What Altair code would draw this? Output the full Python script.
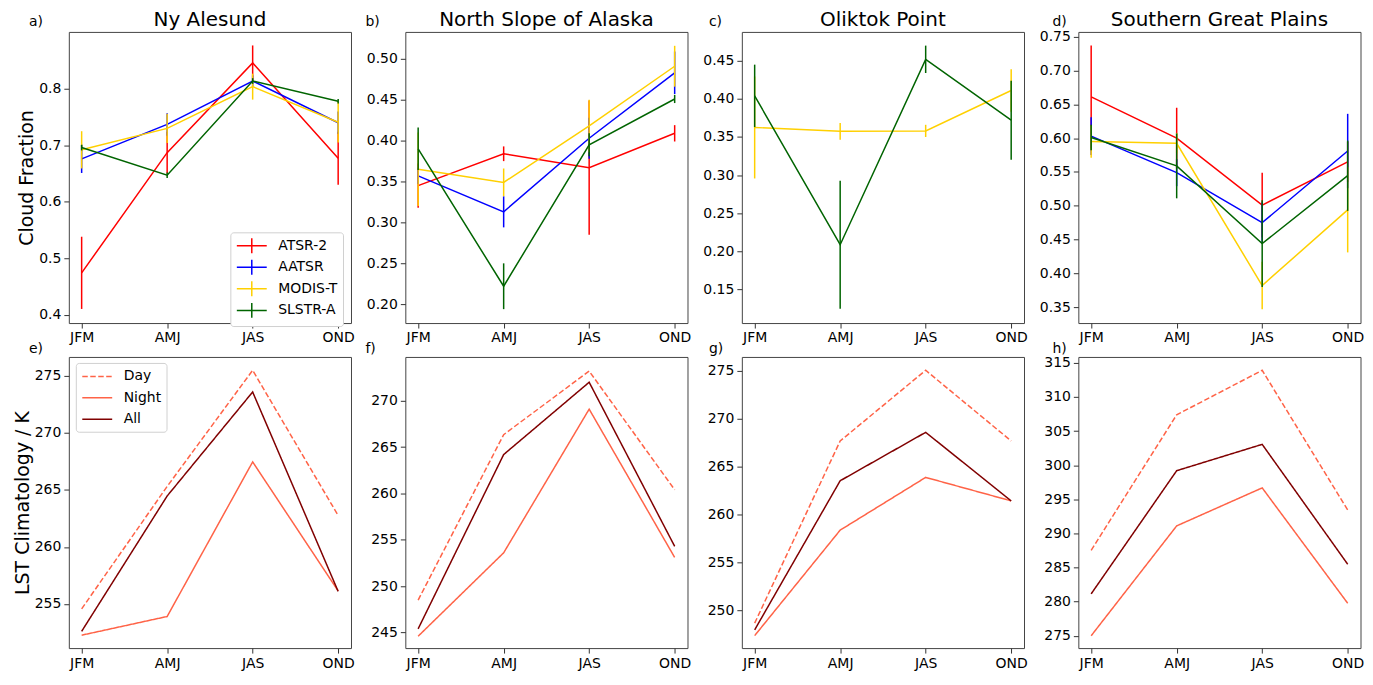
import altair as alt
import pandas as pd

FONT = "DejaVu Sans"

SEASONS = ["JFM", "AMJ", "JAS", "OND"]
SENSORS = ["ATSR-2", "AATSR", "MODIS-T", "SLSTR-A"]
SENSOR_COLORS = ["#ff0000", "#0000ff", "#ffd000", "#006400"]
LST_SERIES = ["Day", "Night", "All"]
LST_COLORS = ["#ff6347", "#ff6347", "#800000"]
LST_DASHES = [[5.5, 2.5], [1, 0], [1, 0]]

SITES = ["Ny Alesund", "North Slope of Alaska", "Oliktok Point", "Southern Great Plains"]
CF_LABELS = ["a)", "b)", "c)", "d)"]
LST_LABELS = ["e)", "f)", "g)", "h)"]

# ---- Cloud fraction: seasonal mean and error-bar half width ----
NYA_CF = {
    "ATSR-2": [0.474, 0.687, 0.846, 0.677],
    "AATSR": [0.676, 0.737, 0.814, 0.740],
    "MODIS-T": [0.692, 0.730, 0.804, 0.741],
    "SLSTR-A": [0.696, 0.647, 0.814, 0.778],
}
NYA_ERR = {
    "ATSR-2": [0.064, 0.037, 0.031, 0.047],
    "AATSR": [0.025, 0.020, 0.010, 0.020],
    "MODIS-T": [0.033, 0.026, 0.023, 0.036],
    "SLSTR-A": [0.005, 0.005, 0.005, 0.004],
}
NSA_CF = {
    "ATSR-2": [0.345, 0.384, 0.367, 0.409],
    "AATSR": [0.357, 0.313, 0.403, 0.483],
    "MODIS-T": [0.365, 0.349, 0.418, 0.491],
    "SLSTR-A": [0.390, 0.222, 0.395, 0.451],
}
NSA_ERR = {
    "ATSR-2": [0.027, 0.009, 0.082, 0.010],
    "AATSR": [0.010, 0.019, 0.025, 0.026],
    "MODIS-T": [0.045, 0.017, 0.032, 0.025],
    "SLSTR-A": [0.026, 0.028, 0.014, 0.005],
}
OLI_CF = {
    "MODIS-T": [0.3625, 0.3575, 0.358, 0.411],
    "SLSTR-A": [0.404, 0.2085, 0.452, 0.372],
}
OLI_ERR = {
    "MODIS-T": [0.067, 0.011, 0.008, 0.028],
    "SLSTR-A": [0.041, 0.084, 0.018, 0.052],
}
SGP_CF = {
    "ATSR-2": [0.661, 0.600, 0.501, 0.565],
    "AATSR": [0.603, 0.549, 0.475, 0.581],
    "MODIS-T": [0.595, 0.5925, 0.382, 0.494],
    "SLSTR-A": [0.601, 0.559, 0.444, 0.5445],
}
SGP_ERR = {
    "ATSR-2": [0.076, 0.045, 0.048, 0.030],
    "AATSR": [0.028, 0.020, 0.030, 0.055],
    "MODIS-T": [0.024, 0.015, 0.035, 0.063],
    "SLSTR-A": [0.019, 0.048, 0.064, 0.052],
}

# ---- LST climatology (K) ----
NYA_LST = {"Day": [254.57, 265.3, 275.48, 262.75],
           "Night": [252.26, 253.9, 267.45, 256.14],
           "All": [252.6, 264.46, 273.58, 256.1]}
NSA_LST = {"Day": [248.5, 266.35, 273.2, 260.4],
           "Night": [244.6, 253.6, 269.1, 253.1],
           "All": [245.4, 264.2, 272.0, 254.3]}
OLI_LST = {"Day": [248.7, 267.7, 275.07, 267.7],
           "Night": [247.4, 258.4, 263.9, 261.45],
           "All": [248.0, 263.55, 268.6, 261.45]}
SGP_LST = {"Day": [287.52, 307.38, 313.9, 293.43],
           "Night": [275.0, 291.1, 296.67, 279.76],
           "All": [281.14, 299.19, 303.05, 285.48]}

CF_DOMAINS = [[0.385, 0.901], [0.177, 0.533], [0.1056, 0.488], [0.3265, 0.7572]]
CF_TICKS = [[0.4, 0.5, 0.6, 0.7, 0.8],
            [0.20, 0.25, 0.30, 0.35, 0.40, 0.45, 0.50],
            [0.15, 0.20, 0.25, 0.30, 0.35, 0.40, 0.45],
            [0.35, 0.40, 0.45, 0.50, 0.55, 0.60, 0.65, 0.70, 0.75]]
CF_FORMATS = [".1f", ".2f", ".2f", ".2f"]
LST_DOMAINS = [[251.13, 276.65], [243.32, 274.73], [246.1, 276.46], [273.19, 315.86]]
LST_TICKS = [[255, 260, 265, 270, 275],
             [245, 250, 255, 260, 265, 270],
             [250, 255, 260, 265, 270, 275],
             [275, 280, 285, 290, 295, 300, 305, 310, 315]]

W = 283
H = 292
LABEL_DX = [-40, -40, -33, -26]


def x_enc():
    return alt.X("season:N", sort=SEASONS,
                 scale=alt.Scale(type="point", padding=0.15),
                 axis=alt.Axis(title=None, labelAngle=0))


def text_layer(txt, dx, dy, size, align):
    return alt.Chart(pd.DataFrame({"t": [txt]})).mark_text(
        align=align, baseline="alphabetic", fontSize=size, font=FONT, color="black"
    ).encode(text="t:N", x=alt.value(dx), y=alt.value(dy))


def cf_panel(col, vals, errs):
    rows = []
    for s in SENSORS:
        if s not in vals:
            continue
        for i, m in enumerate(SEASONS):
            v, e = vals[s][i], errs[s][i]
            rows.append({"season": m, "sensor": s, "cf": v, "lo": v - e, "hi": v + e})
    df = pd.DataFrame(rows)
    yscale = alt.Scale(domain=CF_DOMAINS[col], nice=False, zero=False)
    yaxis = alt.Axis(values=CF_TICKS[col], format=CF_FORMATS[col],
                     title="Cloud Fraction" if col == 0 else None)
    if col == 0:
        legend = alt.Legend(title=None, orient="none", legendX=162, legendY=201,
                            symbolType="M-2,0H2M0,-1V1", symbolSize=225,
                            symbolStrokeWidth=1.5, symbolOffset=8, labelOffset=18,
                            labelFontSize=14, labelFont=FONT, rowPadding=0.6,
                            padding=5, strokeColor="#d0d0d0", fillColor="white",
                            cornerRadius=3)
    else:
        legend = None
    color = alt.Color("sensor:N", scale=alt.Scale(domain=SENSORS, range=SENSOR_COLORS),
                      legend=legend)
    layers = []
    base = alt.Chart(df)
    for s in SENSORS:
        if s not in vals:
            continue
        sub = base.transform_filter(alt.datum.sensor == s)
        layers.append(sub.mark_rule(strokeWidth=1.5).encode(
            x=x_enc(), y=alt.Y("lo:Q", scale=yscale, axis=yaxis), y2="hi:Q", color=color))
        layers.append(sub.mark_line(strokeWidth=1.5).encode(
            x=x_enc(), y=alt.Y("cf:Q", scale=yscale, axis=yaxis), color=color))
    layers.append(text_layer(CF_LABELS[col], LABEL_DX[col], -6, 14, "left"))
    layers.append(text_layer(SITES[col], W / 2, -6, 20, "center"))
    return alt.layer(*layers).properties(width=W, height=H)


def lst_panel(col, vals):
    rows = []
    for s in LST_SERIES:
        for i, m in enumerate(SEASONS):
            rows.append({"season": m, "series": s, "lst": vals[s][i]})
    df = pd.DataFrame(rows)
    yscale = alt.Scale(domain=LST_DOMAINS[col], nice=False, zero=False)
    yaxis = alt.Axis(values=LST_TICKS[col], format="d",
                     title="LST Climatology / K" if col == 0 else None)
    if col == 0:
        legend = alt.Legend(title=None, orient="none", legendX=7, legendY=6,
                            symbolType="M-2,0H2", symbolSize=225,
                            symbolStrokeWidth=1.5, symbolOffset=8, labelOffset=18,
                            labelFontSize=14, labelFont=FONT, rowPadding=5.5,
                            padding=5, strokeColor="#d0d0d0", fillColor="white",
                            cornerRadius=3)
    else:
        legend = None
    color = alt.Color("series:N", scale=alt.Scale(domain=LST_SERIES, range=LST_COLORS),
                      legend=legend)
    dash = alt.StrokeDash("series:N", scale=alt.Scale(domain=LST_SERIES, range=LST_DASHES),
                          legend=legend)
    lines = alt.Chart(df).mark_line(strokeWidth=1.5).encode(
        x=x_enc(), y=alt.Y("lst:Q", scale=yscale, axis=yaxis),
        color=color, strokeDash=dash)
    lab = text_layer(LST_LABELS[col], LABEL_DX[col], -4, 14, "left")
    return alt.layer(lines, lab).properties(width=W, height=H)


panels = [
    cf_panel(0, NYA_CF, NYA_ERR),
    cf_panel(1, NSA_CF, NSA_ERR),
    cf_panel(2, OLI_CF, OLI_ERR),
    cf_panel(3, SGP_CF, SGP_ERR),
    lst_panel(0, NYA_LST),
    lst_panel(1, NSA_LST),
    lst_panel(2, OLI_LST),
    lst_panel(3, SGP_LST),
]

chart = alt.concat(
    *panels, columns=4, spacing={"row": 34, "column": 54.5}, bounds="flush"
).resolve_scale(
    x="independent", y="independent", color="independent", strokeDash="independent"
).properties(
    padding={"left": 4, "top": 0, "right": 0, "bottom": 0}
).configure_axis(
    labelFont=FONT, titleFont=FONT, labelFontSize=14, labelColor="black",
    titleFontSize=19, titleFontWeight="normal", titleColor="black",
    tickSize=5, tickColor="#333333", labelPadding=3, titlePadding=2,
    grid=False, domain=False,
).configure_view(
    stroke="#444444", strokeWidth=1
).configure_legend(
    labelFont=FONT, labelColor="black"
)

chart.save("out.html", embed_options={"renderer": "svg", "actions": False})
